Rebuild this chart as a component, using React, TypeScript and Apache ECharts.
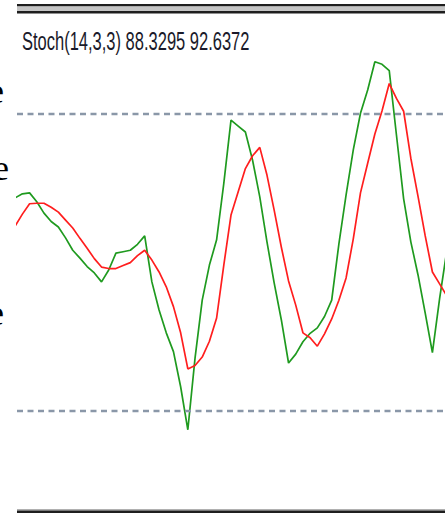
import React, { useEffect, useRef } from "react";
import * as echarts from "echarts";

const titleText = "Stoch(14,3,3) 88.3295 92.6372";
const levelLines = [80, 20];
const bars = Array.from({ length: 61 }, (_, i) => i);
const mainK = [
  63.0, 63.8, 64.0, 62.2, 59.9, 58.2, 57.1, 54.9, 52.4, 50.8,
  49.1, 47.8, 46.0, 48.4, 51.8, 52.1, 52.4, 53.6, 55.3, 46.0,
  40.3, 35.7, 31.9, 24.8, 16.1, 30.6, 42.3, 49.4, 54.5, 65.9,
  78.7, 77.5, 76.3, 70.6, 63.2, 54.1, 45.8, 38.3, 29.6, 31.4,
  33.9, 35.6, 36.7, 39.0, 42.3, 53.7, 63.6, 72.7, 80.1, 84.8,
  90.5, 90.0, 88.7, 75.7, 62.8, 54.1, 47.4, 39.7, 31.7, 42.6,
  52.3,
];
const signalD = [
  57.3, 59.7, 61.8, 61.9, 61.9, 61.1, 60.1, 58.5, 56.9, 54.8,
  52.8, 50.7, 49.0, 48.7, 48.7, 49.3, 49.9, 51.3, 52.4, 50.4,
  48.0, 45.0, 41.0, 35.7, 28.4, 29.1, 30.8, 34.0, 38.7, 49.4,
  59.5, 64.2, 68.9, 71.5, 73.2, 67.6, 60.5, 53.0, 46.2, 41.3,
  35.7, 34.7, 33.0, 35.5, 38.5, 42.3, 46.8, 54.7, 64.0, 70.0,
  75.9, 80.6, 86.1, 83.1, 80.5, 71.0, 63.3, 55.3, 48.0, 45.6,
  43.2,
];
const strayLetters = ["e", "e", "e"];

export default function App() {
  const ref = useRef<HTMLDivElement>(null);
  useEffect(() => {
    if (!ref.current) return;
    const chart = echarts.init(ref.current, null, { renderer: "svg" });
    const kData = bars.map((b, i) => [b, mainK[i]]);
    const dData = bars.map((b, i) => [b, signalD[i]]);
    const letterPos = [
      { x: -12, y: 91 },
      { x: -7, y: 167.6 },
      { x: -12, y: 312.6 },
    ];
    chart.setOption({
      animation: false,
      backgroundColor: "#ffffff",
      grid: { left: 17, right: 0, top: 14.8, bottom: 4.6 },
      xAxis: { type: "value", min: 0.25, max: 59.75, show: false },
      yAxis: { type: "value", min: 0, max: 100, show: false },
      series: [
        {
          type: "line",
          data: [],
          z: 1,
          silent: true,
          markLine: {
            silent: true,
            symbol: ["none", "none"],
            label: { show: false },
            lineStyle: { type: [6, 4.5], color: "#8a97a8", width: 2.4 },
            data: levelLines.map((v) => ({ yAxis: v })),
          },
        },
        {
          type: "line",
          data: kData,
          z: 2,
          showSymbol: false,
          lineStyle: { color: "#1f9a1f", width: 1.7 },
          itemStyle: { color: "#1f9a1f" },
        },
        {
          type: "line",
          data: dData,
          z: 3,
          showSymbol: false,
          lineStyle: { color: "#ff1e1e", width: 1.7 },
          itemStyle: { color: "#ff1e1e" },
        },
      ],
      graphic: [
        { type: "rect", shape: { x: 17, y: 4, width: 428, height: 2.5 }, style: { fill: "#1e1e1e" } },
        { type: "rect", shape: { x: 17, y: 6.5, width: 428, height: 4.5 }, style: { fill: "#c4c4c4" } },
        { type: "rect", shape: { x: 17, y: 11, width: 428, height: 2.5 }, style: { fill: "#1e1e1e" } },
        { type: "rect", shape: { x: 17, y: 509, width: 428, height: 1.5 }, style: { fill: "#b0b0b0" } },
        { type: "rect", shape: { x: 17, y: 510.5, width: 428, height: 2.5 }, style: { fill: "#1e1e1e" } },
        {
          type: "text",
          x: 22,
          y: 28,
          scaleY: 1.55,
          style: {
            text: titleText,
            fontFamily: "Liberation Sans",
            fontSize: 16.5,
            fill: "#1a1a2a",
            verticalAlign: "top",
          },
        },
        ...strayLetters.map((t, i) => ({
          type: "text",
          x: letterPos[i].x,
          y: letterPos[i].y,
          style: {
            text: t,
            fontFamily: "Liberation Serif",
            fontSize: 36,
            fill: "#000000",
            verticalAlign: "middle",
          },
        })),
      ],
    });
    return () => chart.dispose();
  }, []);
  return (
    <div
      ref={ref}
      style={{ position: "fixed", left: 0, top: 0, width: 445, height: 514 }}
    />
  );
}
